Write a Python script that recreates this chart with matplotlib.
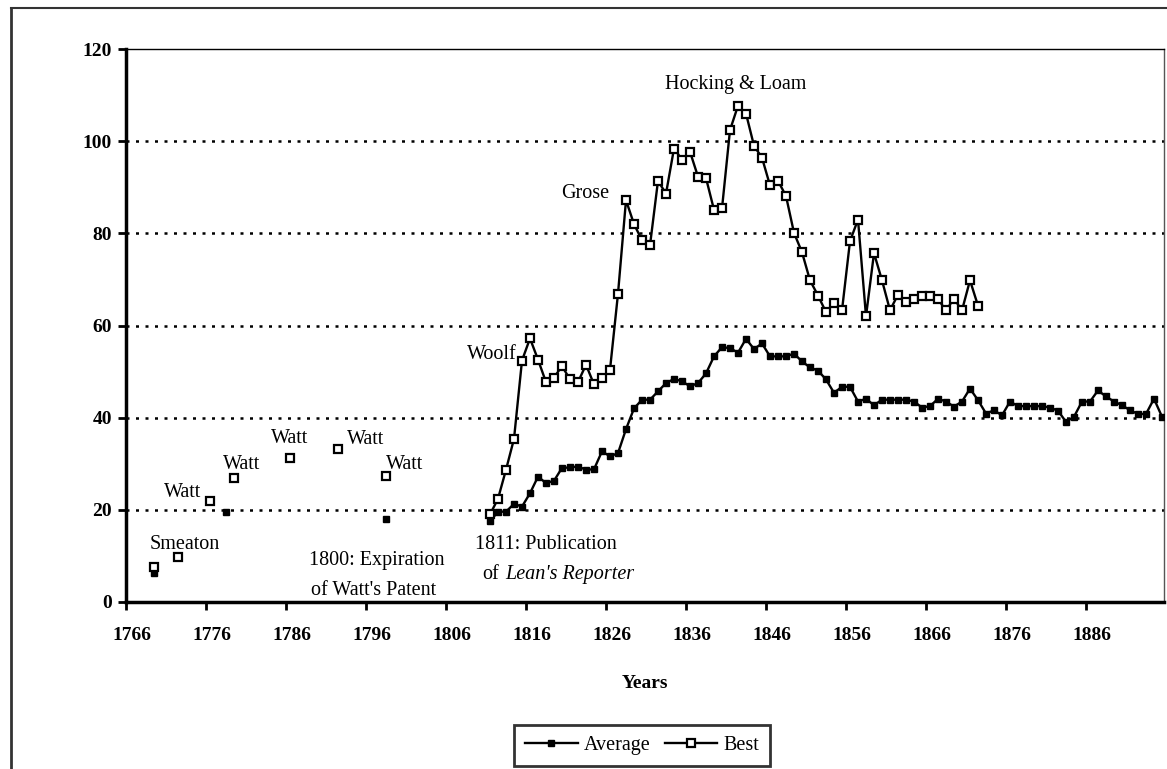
import numpy as np
import pandas as pd
import matplotlib
matplotlib.use("Agg")
import matplotlib.pyplot as plt
from matplotlib.lines import Line2D

# ---------------- data ----------------
best_years = [1769, 1772, 1776, 1779, 1786, 1792, 1798] + list(range(1811, 1873))
best_values = [7.6, 9.8, 22.0, 27.0, 31.3, 33.3, 27.4,
               # 1811-1826
               19.0, 22.4, 28.7, 35.4, 52.4, 57.2, 52.6, 47.7, 48.7, 51.2, 48.3, 47.7, 51.5, 47.2, 48.6, 50.4,
               # 1827-1840
               66.9, 87.2, 82.0, 78.5, 77.4, 91.4, 88.6, 98.4, 96.0, 97.7, 92.3, 92.0, 85.1, 85.4,
               # 1841-1856
               102.4, 107.7, 106.0, 99.0, 96.4, 90.4, 91.4, 88.1, 80.1, 75.9, 69.8, 66.5, 62.9, 64.9, 63.3, 78.3,
               # 1857-1872
               83.0, 62.0, 75.7, 69.8, 63.3, 66.7, 65.1, 65.7, 66.4, 66.4, 65.7, 63.3, 65.8, 63.3, 69.8, 64.3]

avg_years = [1769, 1778, 1798] + list(range(1811, 1896))
avg_values = [6.3, 19.5, 18.0,
              # 1811-1826
              17.5, 19.6, 19.6, 21.3, 20.7, 23.6, 27.2, 25.8, 26.3, 29.1, 29.2, 29.4, 28.7, 28.8, 32.7, 31.6,
              # 1827-1842
              32.3, 37.5, 42.0, 43.9, 43.9, 45.7, 47.5, 48.4, 47.9, 46.8, 47.5, 49.6, 53.3, 55.3, 55.1, 54.1,
              # 1843-1858
              57.1, 54.9, 56.1, 53.3, 53.3, 53.3, 53.9, 52.2, 50.9, 50.2, 48.3, 45.4, 46.7, 46.7, 43.5, 44.1,
              # 1859-1874
              42.7, 43.9, 43.9, 43.9, 43.9, 43.5, 42.2, 42.5, 44.1, 43.5, 42.4, 43.5, 46.3, 43.8, 40.9, 41.6,
              # 1875-1895
              40.5, 43.5, 42.5, 42.5, 42.5, 42.5, 42.2, 41.5, 39.1, 40.2, 43.5, 43.5, 45.9, 44.6, 43.5, 42.7,
              41.6, 40.8, 40.8, 44.1, 40.2]

x_tick_labels = [str(y) for y in range(1766, 1896, 10)]
y_ticks = [0, 20, 40, 60, 80, 100, 120]

annotations = [
    ("Smeaton", 1772.9, 12.4),
    ("Watt", 1772.6, 23.7),
    ("Watt", 1779.9, 29.8),
    ("Watt", 1786.0, 35.4),
    ("Watt", 1795.4, 35.2),
    ("Watt", 1800.3, 29.8),
    ("1800: Expiration", 1796.9, 8.9),
    ("of Watt's Patent", 1796.5, 2.6),
    ("1811: Publication", 1818.0, 12.4),
    ("Woolf", 1811.2, 53.7),
    ("Grose", 1822.9, 88.7),
    ("Hocking & Loam", 1841.75, 112.2),
]

# ---------------- build series ----------------
all_years = np.arange(1766, 1896)
best = pd.Series(best_values, index=best_years).reindex(all_years)
avg = pd.Series(avg_values, index=avg_years).reindex(all_years)

plt.rcParams['font.family'] = ['Liberation Serif', 'DejaVu Serif']

W, H = 1167, 769
fig = plt.figure(figsize=(W / 100, H / 100), dpi=100)
ax_l, ax_r, ax_t, ax_b = 126, 1164, 49, 602
ax = fig.add_axes([ax_l / W, 1 - ax_b / H, (ax_r - ax_l) / W, (ax_b - ax_t) / H])

# gridlines
for yv in y_ticks[1:-1]:
    ax.axhline(yv, color='black', lw=1.8, ls=(0, (1.2, 2.6)), zorder=1)

ax.plot(all_years, avg.values, color='black', lw=1.7, marker='s', markersize=3.8,
        markerfacecolor='black', markeredgecolor='black', label='Average', zorder=3)
ax.plot(all_years, best.values, color='black', lw=1.7, marker='s', markersize=6,
        markerfacecolor='white', markeredgecolor='black', markeredgewidth=1.6,
        label='Best', zorder=4)

ax.set_xlim(1765.5, 1895.25)
ax.set_ylim(0, 120)

# x ticks between categories, labels at category centre
ax.set_xticks(np.arange(1765.5, 1895, 10))
ax.set_xticklabels([])
ax.set_xticks(np.arange(1766, 1896, 10) + 0.25, minor=True)
ax.set_xticklabels(x_tick_labels, minor=True)
ax.tick_params(axis='x', which='major', direction='out', length=6, width=2)
ax.tick_params(axis='x', which='minor', length=0, pad=18, labelsize=14)
ax.set_yticks(y_ticks)
ax.set_yticklabels([str(v) for v in y_ticks])
ax.tick_params(axis='y', direction='out', length=6, width=2, labelsize=14, pad=4)

for lbl in ax.get_xticklabels(minor=True) + ax.get_yticklabels():
    lbl.set_fontweight('bold')

ax.spines['left'].set_linewidth(2.5)
ax.spines['bottom'].set_linewidth(2.5)
ax.spines['top'].set_linewidth(1.0)
ax.spines['right'].set_linewidth(1.0)
ax.spines['right'].set_color('#555555')

ax.set_xlabel('Years', fontsize=14, fontweight='bold', labelpad=22)

for txt, xv, yv in annotations:
    ax.text(xv, yv, txt, ha='center', va='center', fontsize=14.5, zorder=5)
ax.text(1810.0, 5.9, "of", ha='left', va='center', fontsize=14.5, zorder=5)
ax.text(1812.9, 5.9, "Lean's Reporter", ha='left', va='center', fontsize=14.5,
        style='italic', zorder=5)

# figure border (left and top)
fig.add_artist(Line2D([11 / W, 11 / W], [0, 1 - 8 / H], color='#333333', lw=2,
                      transform=fig.transFigure))
fig.add_artist(Line2D([11 / W, 1], [1 - 8 / H, 1 - 8 / H], color='#333333', lw=1.5,
                      transform=fig.transFigure))

leg = fig.legend(loc='upper center', bbox_to_anchor=(642 / W, 1 - 725 / H), ncol=2,
                 frameon=True, fancybox=False, fontsize=14.5, handlelength=2.6,
                 columnspacing=0.7, handletextpad=0.3, borderpad=0.55,
                 borderaxespad=0)
leg.get_frame().set_edgecolor('black')
leg.get_frame().set_linewidth(2)

fig.savefig('out.png', dpi=100)
